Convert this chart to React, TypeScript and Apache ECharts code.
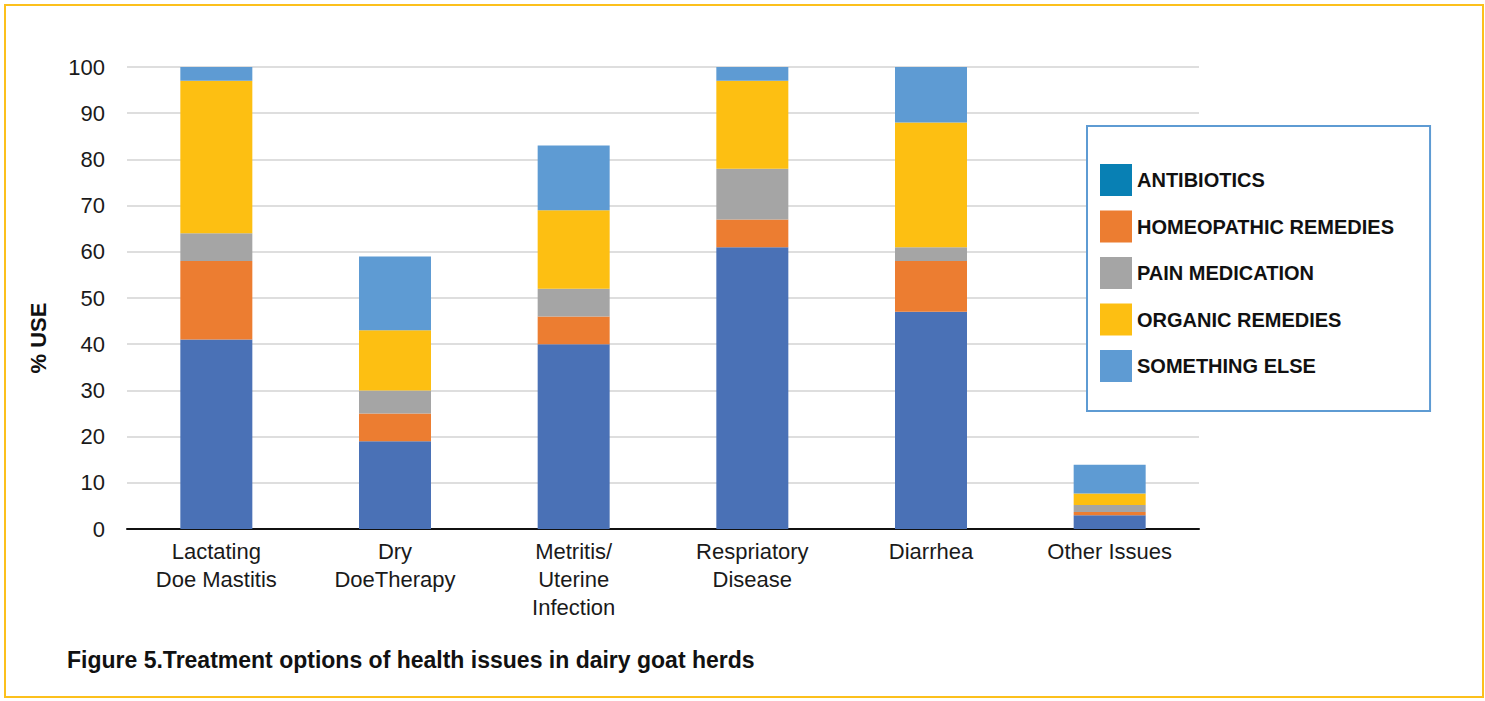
import React, { useEffect, useRef } from "react";
import * as echarts from "echarts";

// Health issues on the x axis
const categories = [
  "Lactating\nDoe Mastitis",
  "Dry\nDoeTherapy",
  "Metritis/\nUterine\nInfection",
  "Respriatory\nDisease",
  "Diarrhea",
  "Other Issues",
];

// % use of each treatment, stacked bottom to top
const antibiotics = [41, 19, 40, 61, 47, 3];
const homeopathicRemedies = [17, 6, 6, 6, 11, 0.7];
const painMedication = [6, 5, 6, 11, 3, 1.5];
const organicRemedies = [33, 13, 17, 19, 27, 2.5];
const somethingElse = [3, 16, 14, 3, 12, 6.2];

const seriesNames = [
  "ANTIBIOTICS",
  "HOMEOPATHIC REMEDIES",
  "PAIN MEDICATION",
  "ORGANIC REMEDIES",
  "SOMETHING ELSE",
];
const seriesValues = [antibiotics, homeopathicRemedies, painMedication, organicRemedies, somethingElse];
const barColors = ["#4a71b6", "#ec7d31", "#a5a5a5", "#fdbf12", "#5e9bd3"];
const legendColors = ["#0880b4", "#ec7d31", "#a5a5a5", "#fdbf12", "#5e9bd3"];

const yTickLabels = ["0", "10", "20", "30", "40", "50", "60", "70", "80", "90", "100"];

const FONT = "'Liberation Sans', Arial, Helvetica, sans-serif";

export default function App() {
  const ref = useRef<HTMLDivElement>(null);

  useEffect(() => {
    if (!ref.current) return;
    const chart = echarts.init(ref.current, null, { renderer: "svg" });
    chart.setOption({
      animation: false,
      backgroundColor: "#ffffff",
      textStyle: { fontFamily: FONT },
      grid: { left: 127, right: 286, top: 67, bottom: 172, containLabel: false },
      legend: {
        orient: "vertical",
        left: 1087,
        top: 126,
        padding: [38, 36, 29, 13],
        itemWidth: 32,
        itemHeight: 32,
        itemGap: 14.5,
        icon: "rect",
        backgroundColor: "#ffffff",
        borderColor: "#5e9bd3",
        borderWidth: 2,
        borderRadius: 0,
        selectedMode: false,
        textStyle: { fontFamily: FONT, fontSize: 20, fontWeight: "bold", color: "#111111" },
        data: seriesNames.map((n, i) => ({ name: n, itemStyle: { color: legendColors[i] } })),
      },
      xAxis: {
        type: "category",
        data: categories,
        axisLine: { show: true, lineStyle: { color: "#111111", width: 2 } },
        axisTick: { show: false },
        axisLabel: {
          interval: 0,
          margin: 8,
          fontSize: 22,
          lineHeight: 28,
          color: "#1a1a1a",
          fontFamily: FONT,
        },
      },
      yAxis: {
        type: "value",
        min: 0,
        max: 100,
        interval: 10,
        axisLine: { show: false },
        axisTick: { show: false },
        splitLine: { show: true, lineStyle: { color: "#dedede", width: 2 } },
        axisLabel: {
          margin: 22,
          fontSize: 22,
          color: "#1a1a1a",
          fontFamily: FONT,
          formatter: (v: number) => yTickLabels[Math.round(v / 10)] ?? String(v),
        },
      },
      series: seriesNames.map((name, i) => ({
        name,
        type: "bar",
        stack: "use",
        barWidth: 72,
        data: seriesValues[i],
        itemStyle: { color: barColors[i] },
      })),
      graphic: [
        {
          type: "rect",
          shape: { x: 5, y: 5, width: 1478, height: 692 },
          style: { fill: "none", stroke: "#fcc01c", lineWidth: 2 },
          z: 100,
        },
        {
          type: "text",
          x: 38,
          y: 338,
          rotation: Math.PI / 2,
          style: {
            text: "% USE",
            fontFamily: FONT,
            fontSize: 22,
            fontWeight: "bold",
            fill: "#111111",
            align: "center",
            verticalAlign: "middle",
          },
        },
        {
          type: "text",
          x: 67,
          y: 660,
          style: {
            text: "Figure 5.Treatment options of health issues in dairy goat herds",
            fontFamily: FONT,
            fontSize: 23,
            fontWeight: "bold",
            fill: "#111111",
            align: "left",
            verticalAlign: "middle",
          },
        },
      ],
    });
    return () => chart.dispose();
  }, []);

  return (
    <div
      ref={ref}
      style={{ position: "fixed", left: 0, top: 0, width: 1485, height: 701, background: "#ffffff" }}
    />
  );
}
